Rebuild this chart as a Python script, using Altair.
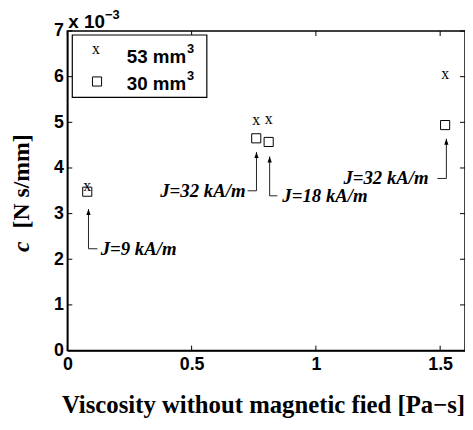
import altair as alt
import pandas as pd

# ---- data ----
visc = [0.08, 0.76, 0.81, 1.52]
c_53 = [3.55, 5.00, 5.03, 6.01]
c_30 = [3.48, 4.65, 4.57, 4.94]

ann_labels = ["J=9 kA/m", "J=32 kA/m", "J=18 kA/m", "J=32 kA/m"]
ann_x = [0.085, 0.761, 0.814, 1.525]
ann_tip = [3.10, 4.35, 4.25, 4.64]
ann_base = [2.23, 3.50, 3.39, 3.77]
ann_hx = [0.121, 0.725, 0.845, 1.489]
ann_tx = [0.134, 0.717, 0.865, 1.454]

x_ticks = [0, 0.5, 1, 1.5]
y_ticks = [0, 1, 2, 3, 4, 5, 6, 7]
x_domain = [0, 1.6]
y_domain = [0, 7]

W, H = 402, 323
TICK_PX = 5

pts = pd.DataFrame({"v": visc, "c53": c_53, "c30": c_30})
ann = pd.DataFrame({"lab": ann_labels, "ax": ann_x, "tip": ann_tip,
                    "base": ann_base, "hx": ann_hx, "tx": ann_tx})
ann["side"] = ["left" if h < x else "right" for h, x in zip(ann_hx, ann_x)]

xs = alt.Scale(domain=x_domain, nice=False, zero=False)
ys = alt.Scale(domain=y_domain, nice=False, zero=False)

LBL_FONT = "Liberation Sans"
SERIF = "Liberation Serif"
X_TITLE = "Viscosity without magnetic fied [Pa\u2212s]"

axis_common = dict(grid=False, domain=True, domainColor="black", domainWidth=1.5,
                   ticks=False, tickSize=0,
                   labelFont=LBL_FONT, labelFontWeight="bold", labelFontSize=18,
                   labelColor="black", labelFlush=False)
x_axis = alt.Axis(values=x_ticks, title=X_TITLE, format="~g", labelPadding=5,
                  titleFont=SERIF, titleFontWeight="bold", titleFontSize=25,
                  titleColor="black", titlePadding=20, titleAlign="left", titleX=-6,
                  **axis_common)
y_axis = alt.Axis(values=y_ticks, title="", format="d", labelPadding=4, **axis_common)


def X(field):
    return alt.X(field, scale=xs, axis=x_axis)


def Y(field):
    return alt.Y(field, scale=ys, axis=y_axis)


squares = alt.Chart(pts).mark_point(shape="square", size=85, filled=False,
                                    stroke="black", strokeWidth=1, opacity=1).encode(
    x=X("v:Q"), y=Y("c30:Q"))

crosses = alt.Chart(pts).mark_text(text="x", font=SERIF, fontSize=16,
                                   baseline="middle", dy=-2, color="black").encode(
    x=X("v:Q"), y=Y("c53:Q"))

# inward ticks on all four sides
dy_t = TICK_PX / H * (y_domain[1] - y_domain[0])
dx_t = TICK_PX / W * (x_domain[1] - x_domain[0])
xt = pd.DataFrame({"t": x_ticks})
yt = pd.DataFrame({"t": y_ticks})
tick_style = dict(color="black", strokeWidth=1)
tb = alt.Chart(xt).transform_calculate(
    y0=str(y_domain[0]), y1=str(y_domain[0] + dy_t)).mark_rule(**tick_style).encode(
    x=X("t:Q"), y=Y("y0:Q"), y2="y1:Q")
tt = alt.Chart(xt).transform_calculate(
    y0=str(y_domain[1]), y1=str(y_domain[1] - dy_t)).mark_rule(**tick_style).encode(
    x=X("t:Q"), y=Y("y0:Q"), y2="y1:Q")
tl = alt.Chart(yt).transform_calculate(
    x0=str(x_domain[0]), x1=str(x_domain[0] + dx_t)).mark_rule(**tick_style).encode(
    y=Y("t:Q"), x=X("x0:Q"), x2="x1:Q")
tr = alt.Chart(yt).transform_calculate(
    x0=str(x_domain[1]), x1=str(x_domain[1] - dx_t)).mark_rule(**tick_style).encode(
    y=Y("t:Q"), x=X("x0:Q"), x2="x1:Q")

# annotation arrows
vline = alt.Chart(ann).mark_rule(color="#222", strokeWidth=1).encode(
    x=X("ax:Q"), y=Y("base:Q"), y2="tip:Q")
hline = alt.Chart(ann).mark_rule(color="#222", strokeWidth=1).encode(
    x=X("ax:Q"), x2="hx:Q", y=Y("base:Q"))
heads = alt.Chart(ann).mark_point(shape="M0,0L0.36,1L-0.36,1Z", size=144,
                                  filled=True, color="black", opacity=1).encode(
    x=X("ax:Q"), y=Y("tip:Q"))
ann_style = dict(font=SERIF, fontStyle="italic", fontWeight="bold",
                 fontSize=19, baseline="middle", color="black")
ann_r = alt.Chart(ann).transform_filter("datum.side == 'right'").mark_text(
    align="left", **ann_style).encode(x=X("tx:Q"), y=Y("base:Q"), text="lab:N")
ann_l = alt.Chart(ann).transform_filter("datum.side == 'left'").mark_text(
    align="right", **ann_style).encode(x=X("tx:Q"), y=Y("base:Q"), text="lab:N")

# legend (drawn by hand)
one = pd.DataFrame({"k": [0]})
leg_box = alt.Chart(one).mark_rect(fill="white", stroke="black", strokeWidth=1.2).encode(
    x=alt.value(5), x2=alt.value(141), y=alt.value(4), y2=alt.value(67))
leg_x = alt.Chart(one).mark_text(text="x", font=SERIF, fontSize=16, baseline="middle",
                                 dy=-2, color="black").encode(
    x=alt.value(29), y=alt.value(20))
leg_sq = alt.Chart(one).mark_point(shape="square", size=85, filled=False, stroke="black",
                                   strokeWidth=1, opacity=1).encode(
    x=alt.value(30), y=alt.value(51))
leg_txt_style = dict(font=LBL_FONT, fontWeight="bold", fontSize=19, baseline="middle",
                     align="left", color="black")
sup_style = dict(font=LBL_FONT, fontWeight="bold", fontSize=13, baseline="middle",
                 align="left", color="black")
leg_t1 = alt.Chart(one).mark_text(text="53 mm", **leg_txt_style).encode(
    x=alt.value(60), y=alt.value(26))
leg_s1 = alt.Chart(one).mark_text(text="3", **sup_style).encode(
    x=alt.value(121), y=alt.value(18))
leg_t2 = alt.Chart(one).mark_text(text="30 mm", **leg_txt_style).encode(
    x=alt.value(60), y=alt.value(54))
leg_s2 = alt.Chart(one).mark_text(text="3", **sup_style).encode(
    x=alt.value(121), y=alt.value(46))

# exponent label above the axis
exp1 = alt.Chart(one).mark_text(text="x 10", **leg_txt_style).encode(
    x=alt.value(1), y=alt.value(-9))
exp2 = alt.Chart(one).mark_text(text="\u22123", **sup_style).encode(
    x=alt.value(38), y=alt.value(-16))

# y title: italic c + [N s/mm]
yt_c = alt.Chart(one).mark_text(text="c", font=SERIF, fontStyle="italic",
                                fontWeight="bold", fontSize=24, angle=270,
                                baseline="middle", align="center", color="black").encode(
    x=alt.value(-46), y=alt.value(218))
yt_u = alt.Chart(one).mark_text(text="[N s/mm]", font=SERIF, fontWeight="bold",
                                fontSize=24, angle=270, baseline="middle",
                                align="center", color="black").encode(
    x=alt.value(-46), y=alt.value(152))

chart = alt.layer(
    squares, crosses, tb, tt, tl, tr, vline, hline, heads, ann_r, ann_l,
    leg_box, leg_x, leg_sq, leg_t1, leg_s1, leg_t2, leg_s2, exp1, exp2, yt_c, yt_u,
).properties(
    width=W, height=H,
    autosize=alt.AutoSizeParams(type="none"),
    padding={"left": 60, "top": 21, "right": 0, "bottom": 75},
    background="white",
).configure_view(
    stroke="black", strokeWidth=1.5
).configure_axis(
    labelFont=LBL_FONT, labelFontWeight="bold", labelFontSize=18, labelColor="black"
)

chart.save("out.html", embed_options={"renderer": "svg", "actions": False})
